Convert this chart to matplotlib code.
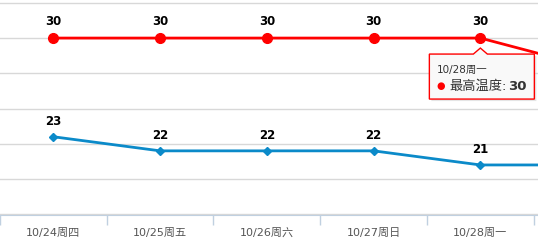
import matplotlib
matplotlib.use("Agg")
import matplotlib.pyplot as plt
import matplotlib.transforms as mtransforms
from matplotlib.patches import Polygon

plt.rcParams['font.family'] = ['DejaVu Sans', 'Noto Sans CJK SC']

# data
dates = ["10/24周四", "10/25周五", "10/26周六", "10/27周日", "10/28周一", "10/29周二"]
high = [30, 30, 30, 30, 30, 28]
low = [23, 22, 22, 22, 21, 21]
grid_vals = [17.5, 20, 22.5, 25, 27.5, 30, 32.5]
tip_idx = 4

fig = plt.figure(figsize=(5.38, 2.49), dpi=100)
ax = fig.add_axes([0, 34 / 249, 1, 215 / 249])
x = list(range(len(dates)))

ax.set_yticks(grid_vals)
ax.yaxis.grid(True, color="#d8d8d8", lw=1)
ax.tick_params(axis="y", length=0, labelleft=False)
ax.set_axisbelow(True)

ax.set_xticks([i + 0.5 for i in range(-1, len(dates))], minor=False)
ax.set_xticklabels([])
ax.set_xticks(x, minor=True)
ax.set_xticklabels(dates, minor=True, fontsize=8, color="#555555")
ax.tick_params(axis="x", which="major", length=7, color="#c0d0e0", width=1)
ax.tick_params(axis="x", which="minor", length=0, pad=9)
for s in ["top", "left", "right"]:
    ax.spines[s].set_visible(False)
ax.spines["bottom"].set_color("#c0d0e0")

ax.plot(x, high, color="#ff0000", lw=2, marker="o", ms=7, clip_on=True, zorder=3)
ax.plot(x, low, color="#0b8ac9", lw=2, marker="D", ms=4.5, clip_on=True, zorder=3)

for i in range(len(dates)):
    ax.annotate(str(high[i]), (x[i], high[i]), xytext=(0, 10), textcoords="offset pixels",
                ha="center", va="bottom", fontsize=8.5, fontweight="bold", color="#000000")
    ax.annotate(str(low[i]), (x[i], low[i]), xytext=(0, 9), textcoords="offset pixels",
                ha="center", va="bottom", fontsize=8.5, fontweight="bold", color="#000000")

ax.set_xlim(-0.5, 4.54)
ax.set_ylim(17.45, 32.7)

# tooltip for 10/28
anchor = mtransforms.ScaledTranslation(x[tip_idx], high[tip_idx], ax.transData)
trans = mtransforms.Affine2D() + anchor
box = [(-51, -16), (-7, -16), (0, -10), (7, -16), (54, -16), (54, -61), (-51, -61)]
shadow = Polygon([(px + 2, py - 2) for px, py in box], closed=True, transform=trans,
                 facecolor="#cccccc", edgecolor="none", alpha=0.5, zorder=5)
fig.add_artist(shadow)
tip = Polygon(box, closed=True, transform=trans, facecolor="#f9f9f9",
              edgecolor="#ff0000", lw=1, zorder=6)
fig.add_artist(tip)
fig.text(-44, -32, dates[tip_idx], transform=trans, ha="left", va="center",
         fontsize=7.5, color="#333333", zorder=7)
fig.text(-40, -48, "●", transform=trans, ha="center", va="center",
         fontsize=7, color="#ff0000", zorder=7)
fig.text(-31, -48, "最高温度:", transform=trans, ha="left", va="center",
         fontsize=9.5, color="#333333", zorder=7)
fig.text(28, -48, str(high[tip_idx]), transform=trans, ha="left", va="center",
         fontsize=9.5, fontweight="bold", color="#333333", zorder=7)

fig.savefig("out.png", dpi=100)
